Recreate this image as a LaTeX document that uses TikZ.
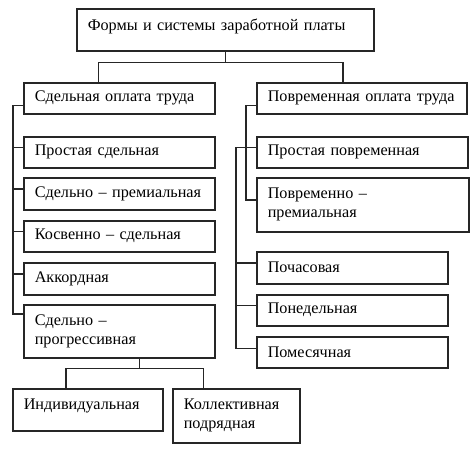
\documentclass[tikz,border=0pt]{standalone}
\usepackage{fontspec}
\setmainfont{Liberation Serif}
\usetikzlibrary{calc, positioning}

\begin{document}
\begin{tikzpicture}[x=1pt, y=-1pt, line/.style={draw=black!85, line width=1.5pt}, every node/.style={font=\fontsize{16.2}{19}\selectfont}]
    % Define styles for boxes
    \tikzstyle{box} = [draw=black!85, line width=1.5pt, rectangle, anchor=north west, align=left, inner xsep=11pt, inner ysep=0pt]

    \useasboundingbox (0,0) rectangle (474,450);

    % Top box
    \node [box, text width=275pt, minimum height=42pt, text depth=11pt] (forms) at (76,8) {Формы и системы заработной платы};

    % Two main kinds
    \node [box, text width=169pt, minimum height=31pt] (sdel) at (23,82) {Сдельная оплата труда};
    \node [box, text width=188pt, minimum height=31pt] (povr) at (256,82) {Повременная оплата труда};

    % Piece-rate systems
    \node [box, text width=169pt, minimum height=31pt] (prostS) at (23,136) {Простая сдельная};
    \node [box, text width=169pt, minimum height=32pt] (sprem) at (23,177) {Сдельно – премиальная};
    \node [box, text width=169pt, minimum height=31pt] (kosv) at (23,220) {Косвенно – сдельная};
    \node [box, text width=169pt, minimum height=32pt] (akkord) at (23,262) {Аккордная};
    \node [box, text width=169pt, minimum height=53pt] (sprog) at (23,304) {Сдельно –\\прогрессивная};

    % Time-rate systems
    \node [box, text width=189pt, minimum height=31pt] (prostP) at (256,136) {Простая повременная};
    \node [box, text width=190pt, minimum height=54pt] (pprem) at (256,177) {Повременно –\\премиальная};
    \node [box, text width=169pt, minimum height=32pt] (pochas) at (256,251) {Почасовая};
    \node [box, text width=169pt, minimum height=31pt] (poned) at (256,294) {Понедельная};
    \node [box, text width=169pt, minimum height=31pt] (pomes) at (256,336) {Помесячная};

    % Bottom boxes
    \node [box, text width=128pt, minimum height=42pt, text depth=12pt] (indiv) at (12,388) {Индивидуальная};
    \node [box, text width=105pt, minimum height=54pt] (koll) at (172,388) {Коллективная\\подрядная};

    % Draw edges
    \draw[line] (forms.south) -- ++(0,11) coordinate (fork);
    \draw[line] ([xshift=-21pt]sdel.north) |- (fork) -| ([xshift=-19pt]povr.north);

    % Left spine
    \draw[line] ([yshift=-7pt]sdel.west) -- ++(-10,0) |- ([yshift=-10pt]sprog.north west);
    \foreach \n in {prostS, sprem, kosv, akkord}
        \draw[line] ([yshift=5pt]\n.west) -- ++(-10,0);

    % Right spines
    \draw[line] ([yshift=-7pt]povr.west) -- ++(-10,0) |- ([yshift=5pt]pprem.west);
    \draw[line] ([yshift=5pt]prostP.west) -- ++(-20,0) |- ([yshift=4pt]pomes.west);
    \foreach \n in {pochas, poned}
        \draw[line] ([yshift=5pt]\n.west) -- ++(-20,0);

    % Split under the progressive box
    \draw[line] ([xshift=20pt]sprog.south) -- ++(0,10) coordinate (split);
    \draw[line] ([xshift=-22pt]indiv.north) |- (split) -| ([xshift=-33pt]koll.north);
\end{tikzpicture}
\end{document}
